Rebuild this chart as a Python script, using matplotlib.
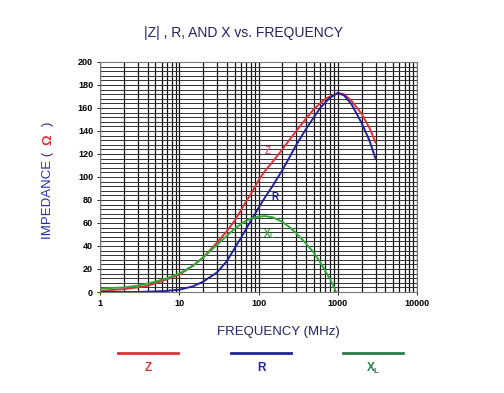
#-*- coding: utf-8 -*-
# ----- Include library -----
import numpy as np
import matplotlib
matplotlib.use("Agg")
import matplotlib.pyplot as plt
from matplotlib.ticker import LogLocator, MultipleLocator, FixedLocator, FixedFormatter

# ----- Data -----
freq_zr = [1, 2, 3, 4, 5, 7, 10, 15, 20, 30, 40, 50, 60, 70, 80, 100, 120, 150, 200, 250,
           300, 400, 500, 600, 700, 800, 1000, 1200, 1500, 2000, 2500, 3000]
z_vals  = [1, 2.5, 4, 5.5, 7.5, 11, 15, 23, 30, 43, 53, 62, 71, 79, 85, 97, 105, 113, 124, 133,
           140, 151, 159, 164, 168, 170, 173, 172, 166, 155, 143, 130]
r_vals  = [0, 0, 0, 0.3, 0.5, 1, 2, 5, 9, 17, 27, 38, 47, 55, 62, 73, 82, 92, 106, 118,
           128, 142, 152, 160, 165, 169, 173, 171, 163, 147, 132, 116]

freq_x  = [1, 2, 3, 5, 7, 10, 15, 20, 30, 40, 50, 60, 70, 80, 100, 120, 150, 200, 250,
           300, 400, 500, 600, 700, 800, 900, 950]
x_vals  = [3, 4, 5.5, 9, 12, 16, 23, 30, 41, 49, 55, 59, 62, 64, 65.5, 66, 65, 61, 56,
           51, 42, 34, 26, 18, 11, 4, 0]

x_ticks  = [1, 10, 100, 1000, 10000]
x_labels = ["1", "10", "100", "1000", "10000"]
y_ticks  = list(range(0, 201, 20))

RED   = "#d8333a"
BLUE  = "#22229a"
GREEN = "#2fa83a"
GREEN_LEG = "#2b7a4e"
NAVY  = "#23235f"

plt.rcParams['font.family'] = ['Liberation Sans', 'DejaVu Sans']

fig = plt.figure(figsize=(5.04, 3.93), dpi=100)
ax = fig.add_axes([100/504, 1-292/393, 317/504, 230/393])

# ----- grid -----
ax.set_xscale("log")
ax.set_xlim(1, 10000)
ax.set_ylim(0, 200)
ax.xaxis.set_major_locator(FixedLocator(x_ticks))
ax.xaxis.set_major_formatter(FixedFormatter(x_labels))
ax.xaxis.set_minor_locator(LogLocator(base=10, subs=np.arange(2, 10)))
ax.xaxis.set_minor_formatter(plt.NullFormatter())
ax.yaxis.set_major_locator(FixedLocator(y_ticks))
ax.yaxis.set_minor_locator(MultipleLocator(4))
ax.grid(which="both", axis="x", color="#111111", lw=0.9)
ax.grid(which="both", axis="y", color="#333333", lw=0.7)
ax.tick_params(which="minor", length=0)
ax.tick_params(which="major", length=2, width=0.6, labelsize=6.5, pad=3)
for lab in ax.get_xticklabels() + ax.get_yticklabels():
    lab.set_fontweight("bold")
for s in ax.spines.values():
    s.set_color("#777777")
    s.set_linewidth(0.8)

# ----- curves -----
ax.plot(freq_zr, z_vals, color=RED, lw=1.4)
ax.plot(freq_zr, r_vals, color=BLUE, lw=1.4)
ax.plot(freq_x, x_vals, color=GREEN, lw=1.4)

ax.text(120, 120, "Z", color="#e0607a", fontsize=7, fontweight="bold")
ax.text(145, 80, "R", color=BLUE, fontsize=7, fontweight="bold")
ax.text(115, 48, "X$_\\mathregular{L}$", color=GREEN, fontsize=7, fontweight="bold")

# ----- labels -----
fig.text(243/504, 1-33/393, "|Z| , R, AND X vs. FREQUENCY", color=NAVY,
         fontsize=10, ha="center", va="center")
fig.text(278/504, 1-332/393, "FREQUENCY (MHz)", color=NAVY,
         fontsize=9.5, ha="center", va="center")
fig.text(48/504, 1-195/393, "IMPEDANCE (", color="#2a2aa8", fontsize=9.5,
         rotation=90, ha="center", va="center")
fig.text(48/504, 1-140/393, "\u03a9", color=RED, fontsize=9.5, fontweight="bold",
         rotation=90, ha="center", va="center")
fig.text(48/504, 1-124/393, ")", color="#2a2aa8", fontsize=9.5,
         rotation=90, ha="center", va="center")

# ----- legend below -----
leg_items = [("Z", RED, 148), ("R", BLUE, 261), ("X$_\\mathregular{L}$", GREEN_LEG, 373)]
for name, col, cx in leg_items:
    fig.add_artist(plt.Line2D([(cx-30)/504, (cx+30)/504], [1-353/393, 1-353/393],
                              color=col, lw=2, transform=fig.transFigure))
    fig.text(cx/504, 1-368/393, name, color=col, fontsize=8.5, fontweight="bold",
             ha="center", va="center")

fig.savefig("out.png", dpi=100)
